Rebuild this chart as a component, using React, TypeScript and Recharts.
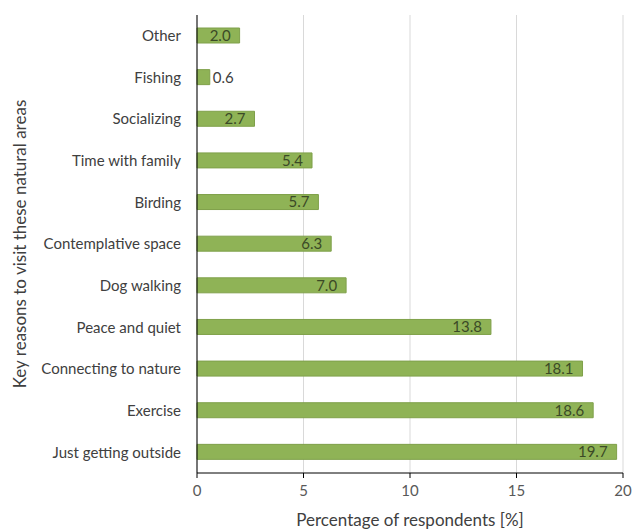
import React from "react";
import {
  BarChart,
  Bar,
  XAxis,
  YAxis,
  CartesianGrid,
  LabelList,
  Label,
} from "recharts";

const reasons = [
  "Other",
  "Fishing",
  "Socializing",
  "Time with family",
  "Birding",
  "Contemplative space",
  "Dog walking",
  "Peace and quiet",
  "Connecting to nature",
  "Exercise",
  "Just getting outside",
];
const percentages = [2.0, 0.6, 2.7, 5.4, 5.7, 6.3, 7.0, 13.8, 18.1, 18.6, 19.7];
const xTicks = [0, 5, 10, 15, 20];

const chartData = reasons.map((name, i) => ({ name, value: percentages[i] }));

const FONT = "Lato, 'Open Sans', sans-serif";

// value label: inside the bar end, or just outside when the bar is too short
function BarValue(props: any) {
  const { x, y, width, height, value } = props;
  const text = Number(value).toFixed(1);
  const outside = width < 24;
  return (
    <text
      x={outside ? x + width + 3 : x + width - 9}
      y={y + height / 2}
      dy="0.36em"
      textAnchor={outside ? "start" : "end"}
      fontSize={15}
      fontFamily={FONT}
      fill={outside ? "#404040" : "#3b4a26"}
    >
      {text}
    </text>
  );
}

export default function App() {
  return (
    <div style={{ position: "absolute", left: 0, top: 0, background: "#fff" }}>
      <BarChart
        width={632}
        height={529}
        data={chartData}
        layout="vertical"
        margin={{ top: 15, right: 9, left: 0, bottom: 0 }}
        barSize={15}
      >
        <CartesianGrid horizontal={false} stroke="#d9d9d9" />
        <XAxis
          type="number"
          domain={[0, 20]}
          ticks={xTicks}
          height={56}
          stroke="#000"
          tickSize={5}
          tickMargin={7}
          tick={{ fill: "#595959", fontSize: 15, fontFamily: FONT }}
        >
          <Label
            value="Percentage of respondents [%]"
            position="insideBottom"
            offset={3}
            fill="#404040"
            fontSize={17}
            fontFamily={FONT}
          />
        </XAxis>
        <YAxis
          type="category"
          dataKey="name"
          width={197}
          stroke="#000"
          tickLine={false}
          tickSize={0}
          tickMargin={16}
          interval={0}
          tick={{ fill: "#404040", fontSize: 15, fontFamily: FONT }}
        >
          <Label
            value="Key reasons to visit these natural areas"
            angle={-90}
            position="insideLeft"
            offset={20}
            fill="#404040"
            fontSize={17}
            fontFamily={FONT}
            style={{ textAnchor: "middle" }}
          />
        </YAxis>
        <Bar
          dataKey="value"
          fill="#8fb356"
          stroke="#7fa04a"
          strokeWidth={1}
          isAnimationActive={false}
        >
          <LabelList dataKey="value" content={BarValue} />
        </Bar>
      </BarChart>
    </div>
  );
}
